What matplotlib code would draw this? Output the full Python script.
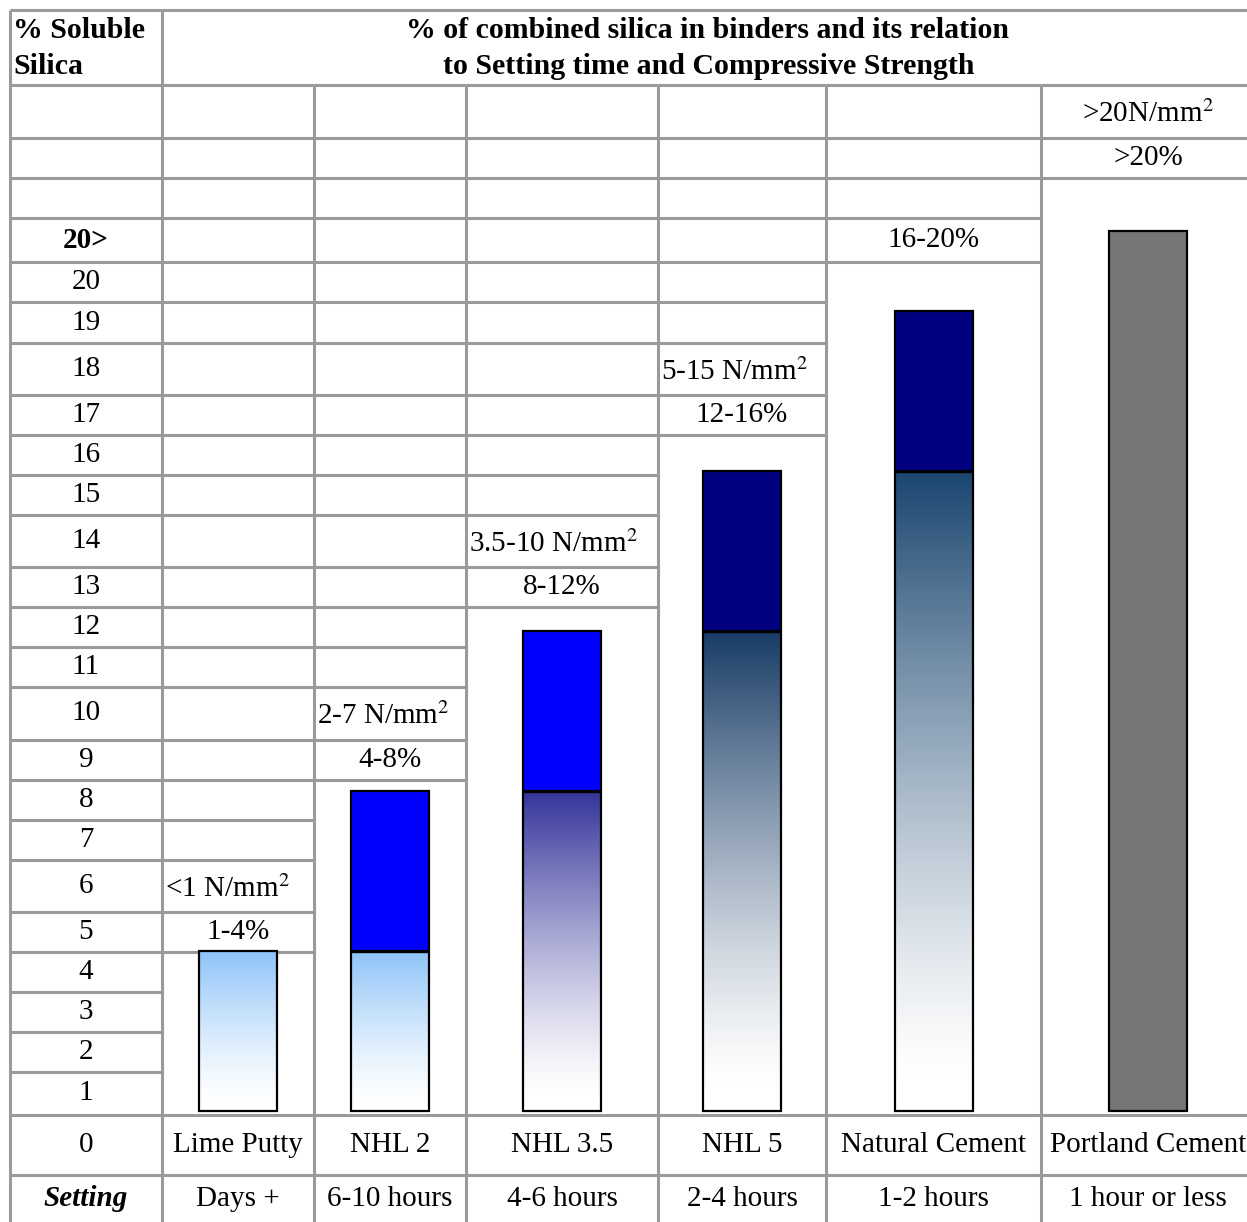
import numpy as np
import matplotlib
matplotlib.use('Agg')
import matplotlib.pyplot as plt
from matplotlib.colors import to_rgb

plt.rcParams['font.family'] = ['Liberation Serif', 'DejaVu Serif']
plt.rcParams['mathtext.fontset'] = 'stix'

# data
binders = ['Lime Putty', 'NHL 2', 'NHL 3.5', 'NHL 5', 'Natural Cement', 'Portland Cement']
setting = ['Days +', '6-10 hours', '4-6 hours', '2-4 hours', '1-2 hours', '1 hour or less']
strength = ['<1 N/mm$^2$', '2-7 N/mm$^2$', '3.5-10 N/mm$^2$', '5-15 N/mm$^2$', '', '>20N/mm$^2$']
silica_range = ['1-4%', '4-8%', '8-12%', '12-16%', '16-20%', '>20%']
silica_low = [4, 4, 8, 12, 16, 0]      # top of the faded part of each bar
silica_high = [4, 8, 12, 16, 20, 22]   # top of each bar
silica_ticks = ['', '', '', '20>', '20', '19', '18', '17', '16', '15', '14', '13',
                '12', '11', '10', '9', '8', '7', '6', '5', '4', '3', '2', '1', '0']
grad_top = ['#8ec4f8', '#8ec4f8', '#34349a', '#183c66', '#1a4670', None]
solid_col = [None, '#0000ff', '#0000ff', '#000080', '#000080', '#767676']

# table layout in pixels
W, H = 1247, 1222
col_edges = [10, 162, 314, 466, 658, 826, 1041, 1255]
row_edges = [85, 138, 178, 218, 262, 302, 343, 395, 435, 475, 515, 567, 607, 647,
             687, 740, 780, 820, 860, 912, 952, 992, 1032, 1072, 1115, 1175, 1222]
range_row = [19, 15, 11, 7, 3, 1]
zero_px, px_per_unit = 1111, 40
bar_w = 78
grid_c = '#9a9a9a'
fs = 21
hfs = 21.5

fig = plt.figure(figsize=(W / 100, H / 100), dpi=100)
ax = fig.add_axes([0, 0, 1, 1])
ax.set_xlim(0, W)
ax.set_ylim(H, 0)
ax.axis('off')

# grid lines
ax.hlines(10, 10, W, color=grid_c, lw=2.2)
ax.vlines([10, 162], 10, H, color=grid_c, lw=2.2)
ax.vlines(col_edges[2:], row_edges[0], H, color=grid_c, lw=2.2)
ax.hlines(row_edges[:-1], col_edges[0], col_edges[1], color=grid_c, lw=2.2)
for c in range(len(binders)):
    x0, x1 = col_edges[c + 1], col_edges[c + 2]
    ys = row_edges[:range_row[c] + 2] + row_edges[24:26]
    ax.hlines(ys, x0, x1, color=grid_c, lw=2.2)

# header
ax.text(13, 30, '% Soluble', fontsize=hfs, fontweight='bold', ha='left', va='center')
ax.text(13, 66, 'Silica', fontsize=hfs, fontweight='bold', ha='left', va='center')
ax.text(708, 30, '% of combined silica in binders and its relation',
        fontsize=hfs, fontweight='bold', ha='center', va='center')
ax.text(709, 66, 'to Setting time and Compressive Strength',
        fontsize=hfs, fontweight='bold', ha='center', va='center')

# left column labels
lx = (col_edges[0] + col_edges[1]) / 2
for i, lab in enumerate(silica_ticks):
    yc = (row_edges[i] + row_edges[i + 1]) / 2
    ax.text(lx, yc, lab, fontsize=fs, ha='center', va='center',
            fontweight='bold' if lab.endswith('>') else 'normal')
ax.text(lx, (row_edges[25] + row_edges[26]) / 2, 'Setting', fontsize=fs,
        fontweight='bold', style='italic', ha='center', va='center')

# column labels
for c in range(len(binders)):
    x0, x1 = col_edges[c + 1], col_edges[c + 2]
    xc = (x0 + x1) / 2
    r = range_row[c]
    ax.text(xc, (row_edges[r] + row_edges[r + 1]) / 2, silica_range[c],
            fontsize=fs, ha='center', va='center')
    if strength[c]:
        yc = (row_edges[r - 1] + row_edges[r]) / 2 + 3
        if c == len(binders) - 1:
            ax.text(xc, yc, strength[c], fontsize=fs, ha='center', va='center')
        else:
            ax.text(x0 + 3, yc, strength[c], fontsize=fs, ha='left', va='center')
    ax.text(xc, (row_edges[24] + row_edges[25]) / 2, binders[c],
            fontsize=fs, ha='center', va='center')
    ax.text(xc, (row_edges[25] + row_edges[26]) / 2, setting[c],
            fontsize=fs, ha='center', va='center')

# bars on a silica scale
axb = fig.add_axes([0, 0, 1, 1])
axb.patch.set_alpha(0)
axb.axis('off')
ymin = (zero_px - H) / px_per_unit
ymax = zero_px / px_per_unit
centers = [(col_edges[c + 1] + col_edges[c + 2]) / 2 for c in range(len(binders))]

for c in range(len(binders)):
    xc = centers[c]
    xl = xc - bar_w / 2
    low, high = silica_low[c], silica_high[c]
    if grad_top[c] is not None and low > 0:
        t = np.linspace(1, 0, 300)
        w = np.clip((t - 0.05) / 0.95, 0, 1) ** 1.3
        top = np.array(to_rgb(grad_top[c]))
        img = 1 - (1 - top)[None, :] * w[:, None]
        axb.imshow(img[:, None, :], extent=[xl, xl + bar_w, 0, low],
                   aspect='auto', interpolation='bilinear', zorder=2)
    if solid_col[c] is not None and high > low:
        axb.bar(xc, high - low, bottom=low, width=bar_w, color=solid_col[c], zorder=2)
    axb.bar(xc, high, bottom=0, width=bar_w, fill=False, edgecolor='black',
            lw=1.6, zorder=3)
    if 0 < low < high:
        axb.hlines(low, xl, xl + bar_w, color='black', lw=2.4, zorder=4)

axb.set_xlim(0, W)
axb.set_ylim(ymin, ymax)

fig.savefig('out.png', dpi=100)
